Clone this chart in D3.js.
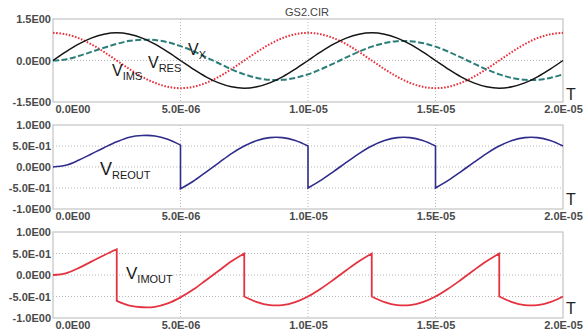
<!DOCTYPE html>
<html>
<head>
<meta charset="utf-8">
<script src="https://cdn.jsdelivr.net/npm/d3@7"></script>
<style>
  html, body { margin: 0; padding: 0; background: #fff; }
  svg { display: block; font-family: "Liberation Sans", Arial, sans-serif; }
</style>
</head>
<body>
<svg id="chart" width="584" height="336"></svg>
<script>
// Sample times in microseconds (0.5 µs step over 20 µs)
const timeUs = [0,0.5,1,1.5,2,2.5,3,3.5,4,4.5,5,5.5,6,6.5,7,7.5,8,8.5,9,9.5,10,
                10.5,11,11.5,12,12.5,13,13.5,14,14.5,15,15.5,16,16.5,17,17.5,18,18.5,19,19.5,20];

// Top panel: reference, quadrature and filtered signals
const vRes = [0,0.31,0.59,0.81,0.95,1,0.95,0.81,0.59,0.31,0,-0.31,-0.59,-0.81,-0.95,-1,-0.95,-0.81,-0.59,-0.31,0,
              0.31,0.59,0.81,0.95,1,0.95,0.81,0.59,0.31,0,-0.31,-0.59,-0.81,-0.95,-1,-0.95,-0.81,-0.59,-0.31,0];
const vIms = [1,0.95,0.81,0.59,0.31,0,-0.31,-0.59,-0.81,-0.95,-1,-0.95,-0.81,-0.59,-0.31,0,0.31,0.59,0.81,0.95,1,
              0.95,0.81,0.59,0.31,0,-0.31,-0.59,-0.81,-0.95,-1,-0.95,-0.81,-0.59,-0.31,0,0.31,0.59,0.81,0.95,1];
const vX   = [0,0.04,0.16,0.31,0.46,0.6,0.71,0.75,0.74,0.66,0.52,0.34,0.12,-0.1,-0.32,-0.5,-0.63,-0.7,-0.7,-0.63,-0.5,
              -0.32,-0.11,0.11,0.32,0.5,0.63,0.7,0.7,0.63,0.5,0.32,0.11,-0.11,-0.32,-0.5,-0.63,-0.7,-0.7,-0.63,-0.5];

// Middle panel: in-phase demodulator output (repeated time = switching edge)
const reoutTimeUs = [0,0.5,1,1.5,2,2.5,3,3.5,4,4.5,5,
                     5,5.5,6,6.5,7,7.5,8,8.5,9,9.5,10,
                     10,10.5,11,11.5,12,12.5,13,13.5,14,14.5,15,
                     15,15.5,16,16.5,17,17.5,18,18.5,19,19.5,20];
const vReout = [0,0.04,0.16,0.31,0.46,0.6,0.71,0.75,0.74,0.66,0.52,
                -0.52,-0.34,-0.12,0.1,0.32,0.5,0.63,0.7,0.7,0.63,0.5,
                -0.5,-0.32,-0.11,0.11,0.32,0.5,0.63,0.7,0.7,0.63,0.5,
                -0.5,-0.32,-0.11,0.11,0.32,0.5,0.63,0.7,0.7,0.63,0.5];

// Bottom panel: quadrature demodulator output
const imoutTimeUs = [0,0.5,1,1.5,2,2.5,
                     2.5,3,3.5,4,4.5,5,5.5,6,6.5,7,7.5,
                     7.5,8,8.5,9,9.5,10,10.5,11,11.5,12,12.5,
                     12.5,13,13.5,14,14.5,15,15.5,16,16.5,17,17.5,
                     17.5,18,18.5,19,19.5,20];
const vImout = [0,0.04,0.16,0.31,0.46,0.6,
                -0.6,-0.71,-0.75,-0.74,-0.66,-0.52,-0.34,-0.12,0.1,0.32,0.5,
                -0.5,-0.63,-0.7,-0.7,-0.63,-0.5,-0.32,-0.11,0.11,0.32,0.5,
                -0.5,-0.63,-0.7,-0.7,-0.63,-0.5,-0.32,-0.11,0.11,0.32,0.5,
                -0.5,-0.63,-0.7,-0.7,-0.63,-0.5];

// Axis ticks and labels
const xTicks = [0, 5e-6, 1e-5, 1.5e-5, 2e-5];
const xTickLabels = ["0.0E00", "5.0E-06", "1.0E-05", "1.5E-05", "2.0E-05"];
const topYTicks = [1.5, 0, -1.5];
const topYTickLabels = ["1.5E00", "0.0E00", "-1.5E00"];
const outYTicks = [1, 0.5, 0, -0.5, -1];
const outYTickLabels = ["1.0E00", "5.0E-01", "0.0E00", "-5.0E-01", "-1.0E00"];

const svg = d3.select("#chart");
const left = 53, right = 563;

svg.append("text").attr("x", 307).attr("y", 16).attr("text-anchor", "middle")
  .attr("font-size", 11).attr("fill", "#444").text("GS2.CIR");

const x = d3.scaleLinear().domain([0, 2e-5]).range([left, right]);

const panels = [
  {top: 19, bottom: 102, domain: [-1.5, 1.5], ticks: topYTicks, labels: topYTickLabels, grid: [0]},
  {top: 125, bottom: 209, domain: [-1, 1], ticks: outYTicks, labels: outYTickLabels, grid: [0.5, 0, -0.5]},
  {top: 232, bottom: 318, domain: [-1, 1], ticks: outYTicks, labels: outYTickLabels, grid: [0.5, 0, -0.5]}
];

// Join consecutive continuous runs into one path; repeated times form vertical edges
function stepPath(times, values, y) {
  const pts = times.map((t, i) => [x(t * 1e-6), y(values[i])]);
  const segs = [];
  let cur = [pts[0]];
  for (let i = 1; i < pts.length; i++) {
    if (times[i] === times[i - 1]) { segs.push(cur); cur = [pts[i]]; }
    else cur.push(pts[i]);
  }
  segs.push(cur);
  const gen = d3.line().curve(d3.curveCatmullRom.alpha(0.5));
  return segs.map((s, i) => {
    const p = s.length > 1 ? gen(s) : `M${s[0][0]},${s[0][1]}`;
    return i === 0 ? p : "L" + p.slice(1);
  }).join("");
}

panels.forEach((p, pi) => {
  const y = d3.scaleLinear().domain(p.domain).range([p.bottom, p.top]);
  p.y = y;
  const g = svg.append("g");

  // grid
  g.selectAll(".vg").data(xTicks.slice(1, -1)).join("line")
    .attr("x1", d => x(d)).attr("x2", d => x(d))
    .attr("y1", p.top).attr("y2", p.bottom)
    .attr("stroke", "#b8b8b8").attr("stroke-width", 1).attr("stroke-dasharray", "1,2");
  g.selectAll(".hg").data(p.grid).join("line")
    .attr("x1", left).attr("x2", right)
    .attr("y1", d => y(d)).attr("y2", d => y(d))
    .attr("stroke", "#b8b8b8").attr("stroke-width", 1).attr("stroke-dasharray", "1,2");

  // frame
  g.append("rect").attr("x", left).attr("y", p.top)
    .attr("width", right - left).attr("height", p.bottom - p.top)
    .attr("fill", "none").attr("stroke", "#c4c4c4").attr("stroke-width", 1.2);

  // y axis labels
  const yAxis = d3.axisLeft(y).tickValues(p.ticks)
    .tickFormat((d, i) => p.labels[i]).tickSize(0).tickPadding(2);
  const ya = svg.append("g").attr("transform", `translate(${left},0)`).call(yAxis);
  ya.select(".domain").remove();
  ya.selectAll("text").attr("font-size", 11).attr("font-weight", "bold")
    .attr("fill", "#4a4a4a").attr("font-family", "'Liberation Sans', Arial, sans-serif");

  // x axis labels
  const xAxis = d3.axisBottom(x).tickValues(xTicks)
    .tickFormat((d, i) => xTickLabels[i]).tickSize(0).tickPadding(3);
  const xa = svg.append("g").attr("transform", `translate(0,${p.bottom})`).call(xAxis);
  xa.select(".domain").remove();
  xa.selectAll("text").attr("font-size", 11).attr("font-weight", "bold")
    .attr("fill", "#4a4a4a").attr("font-family", "'Liberation Sans', Arial, sans-serif")
    .attr("text-anchor", (d, i) => i === 0 ? "start" : "middle")
    .attr("dx", (d, i) => i === 0 ? 2 : 0);

  // time axis name
  svg.append("text").attr("x", 571).attr("y", p.bottom - 2 + (pi === 0 ? 0 : -2))
    .attr("text-anchor", "middle").attr("font-size", 16).attr("fill", "#222").text("T");
});

const smooth = d3.line().curve(d3.curveCatmullRom.alpha(0.5));
const yTop = panels[0].y;
const topSeries = [
  {v: vIms, color: "#e8323f", width: 2, dash: "1.6,1.6"},
  {v: vX, color: "#2a7d78", width: 2, dash: "6,2.5"},
  {v: vRes, color: "#151515", width: 1.5, dash: null}
];
topSeries.forEach(s => {
  svg.append("path")
    .attr("d", smooth(timeUs.map((t, i) => [x(t * 1e-6), yTop(s.v[i])])))
    .attr("fill", "none").attr("stroke", s.color).attr("stroke-width", s.width)
    .attr("stroke-dasharray", s.dash);
});

svg.append("path").attr("d", stepPath(reoutTimeUs, vReout, panels[1].y))
  .attr("fill", "none").attr("stroke", "#2f2c8c").attr("stroke-width", 1.6);
svg.append("path").attr("d", stepPath(imoutTimeUs, vImout, panels[2].y))
  .attr("fill", "none").attr("stroke", "#e5323f").attr("stroke-width", 1.8);

// Series names with subscripts
const names = [
  {x: 148, y: 68, main: "V", sub: "RES", ms: 16, ss: 11},
  {x: 112, y: 76, main: "V", sub: "IMS", ms: 16, ss: 11},
  {x: 188, y: 55, main: "V", sub: "X", ms: 16, ss: 11},
  {x: 100, y: 175, main: "V", sub: "REOUT", ms: 18, ss: 11},
  {x: 126, y: 279, main: "V", sub: "IMOUT", ms: 17, ss: 11}
];
names.forEach(n => {
  const t = svg.append("text").attr("x", n.x).attr("y", n.y).attr("fill", "#1a1a1a");
  t.append("tspan").attr("font-size", n.ms).text(n.main);
  t.append("tspan").attr("font-size", n.ss).attr("dy", 4).text(n.sub);
});
</script>
</body>
</html>
